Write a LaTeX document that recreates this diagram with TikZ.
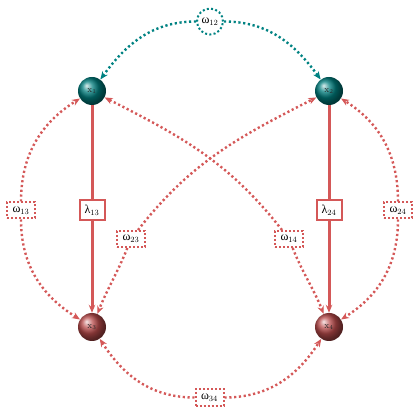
\documentclass[tikz,border=0pt]{standalone}
\usepackage{fontspec}
\newfontfamily\grk{Liberation Serif}
\usetikzlibrary{arrows.meta,shapes.geometric}
\definecolor{lred}{RGB}{212,88,88}
\definecolor{ballred}{RGB}{185,75,75}
\definecolor{ballteal}{RGB}{0,125,125}
\definecolor{lteal}{RGB}{0,130,130}
\newcommand{\om}[1]{{\grk ω}$_{#1}$}
\newcommand{\lam}[1]{{\grk λ}$_{#1}$}
\begin{document}
\begin{tikzpicture}[x=1pt,y=1pt,
  tipst/.style={-{Stealth[length=8pt,width=6.5pt]}},
  tballnode/.style={circle,minimum size=28pt,inner sep=0pt,ball color=ballteal,font=\small,text=black!85},
  rballnode/.style={circle,minimum size=28pt,inner sep=0pt,ball color=ballred,font=\small,text=black!85},
  omrect/.style={draw=lred,fill=white,line width=2pt,dash pattern=on 2pt off 2pt,inner sep=1.5pt,minimum width=28pt,minimum height=16pt,font=\large},
  omcirc/.style={circle,draw=lteal,fill=white,line width=2pt,dash pattern=on 2pt off 2.3pt,inner sep=0pt,minimum size=26pt,font=\large},
  lamrect/.style={draw=lred,fill=white,line width=2pt,inner sep=2pt,minimum width=25pt,minimum height=20pt,font=\large},
  reddot/.style={draw=lred,line width=2.4pt,dash pattern=on 2.2pt off 2.6pt,tipst},
  tealdot/.style={draw=lteal,line width=2.4pt,dash pattern=on 2.2pt off 2.6pt,tipst},
  solidred/.style={draw=lred,line width=3pt}
]
\useasboundingbox (0,0) rectangle (420,420);
\node[tballnode] (x1) at (92,329) {x$_1$};
\node[tballnode] (x2) at (329,329) {x$_2$};
\node[rballnode] (x3) at (92,93) {x$_3$};
\node[rballnode] (x4) at (329,93) {x$_4$};

\node[omcirc] (w12) at (210,398.5) {\om{12}};
\node[omrect] (w13) at (21,209.5) {\om{13}};
\node[omrect] (w24) at (398,209.5) {\om{24}};
\node[omrect] (w23) at (131,181) {\om{23}};
\node[omrect] (w14) at (289,181) {\om{14}};
\node[omrect,minimum height=17pt] (w34) at (209.5,22.5) {\om{34}};
\node[lamrect] (l13) at (92,210) {\lam{13}};
\node[lamrect] (l24) at (329,210) {\lam{24}};

\draw[solidred] (x1) -- (l13);
\draw[solidred,tipst] (l13) -- (x3);
\draw[solidred] (x2) -- (l24);
\draw[solidred,tipst] (l24) -- (x4);

\draw[tealdot] (w12) to[out=180,in=54] (x1);
\draw[tealdot] (w12) to[out=0,in=126] (x2);

\draw[reddot] (w13) to[out=90,in=212] (x1);
\draw[reddot] (w13) to[out=-90,in=148] (x3);
\draw[reddot] (w24) to[out=90,in=-32] (x2);
\draw[reddot] (w24) to[out=-90,in=32] (x4);

\draw[reddot] (w14) to[out=128,in=-27] (x1);
\draw[reddot] (w14) to[out=-68,in=112] (x4);
\draw[reddot] (w23) to[out=52,in=207] (x2);
\draw[reddot] (w23) to[out=-112,in=68] (x3);

\draw[reddot] (w34) to[out=180,in=-57] (x3);
\draw[reddot] (w34) to[out=0,in=-123] (x4);
\end{tikzpicture}
\end{document}
